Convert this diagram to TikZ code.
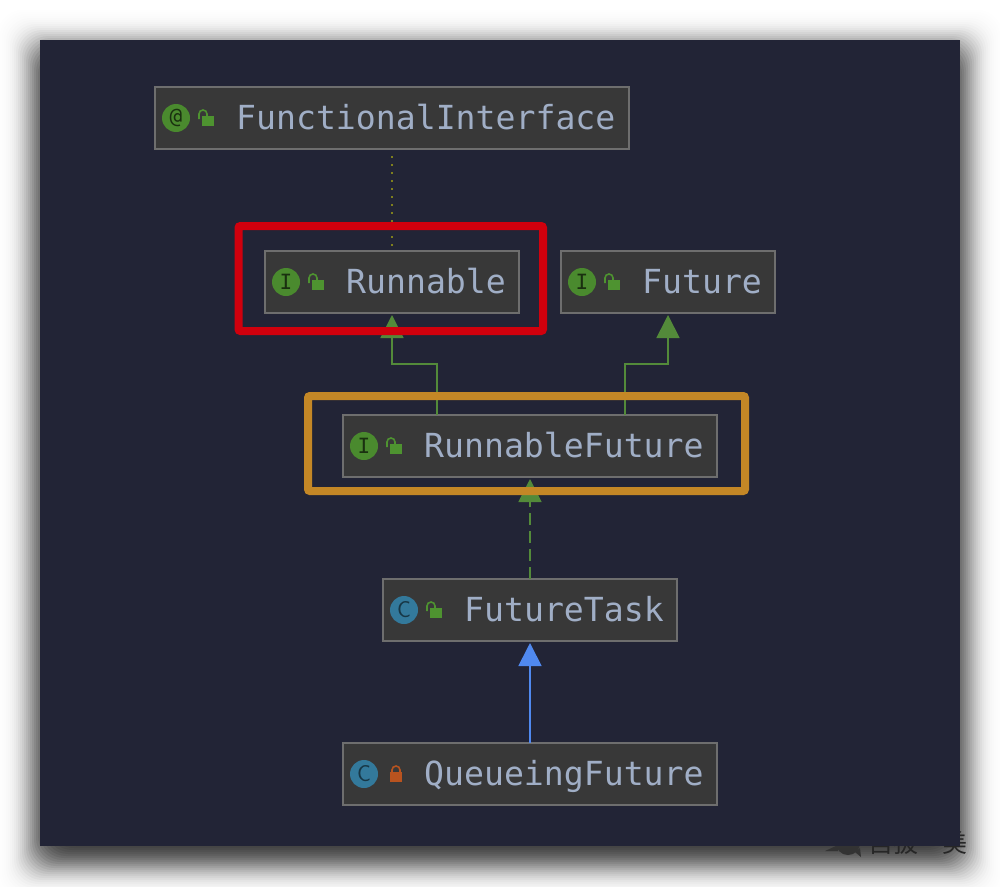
\documentclass[tikz,border=0pt]{standalone}
\usepackage{fontspec}
\setmonofont{DejaVu Sans Mono}
\newfontfamily\cjkfont{Noto Sans CJK SC}
\usetikzlibrary{calc,arrows.meta}
\definecolor{panelbg}{HTML}{222436}
\definecolor{boxbg}{HTML}{383838}
\definecolor{boxline}{HTML}{6E6E6E}
\definecolor{labeltext}{HTML}{A0AEC6}
\definecolor{icongreen}{HTML}{4A8A2E}
\definecolor{iconblue}{HTML}{33799B}
\definecolor{lockgreen}{HTML}{4E9330}
\definecolor{lockred}{HTML}{B8531F}
\definecolor{linegreen}{HTML}{538A3A}
\definecolor{lineblue}{HTML}{5089F0}
\definecolor{dotolive}{HTML}{7F7F1E}
\definecolor{markred}{HTML}{D0000D}
\definecolor{markorange}{HTML}{C48726}

\begin{document}
\begin{tikzpicture}[x=1pt, y=-1pt, >=Triangle]
	\tikzset{classbox/.style={draw=boxline, fill=boxbg, line width=2pt, minimum height=62pt, inner sep=0pt, outer sep=0pt},
		classname/.style={anchor=base west, inner sep=0pt, text=labeltext, font=\ttfamily\fontsize{33.15}{33}\selectfont},
		kindicon/.style={circle, minimum size=28pt, inner sep=0pt, font=\ttfamily\fontsize{21}{21}\selectfont},
		ifaceicon/.style={kindicon, fill=icongreen, text=black!65!icongreen},
		classicon/.style={kindicon, fill=iconblue, text=black!55!iconblue, font=\sffamily\fontsize{23}{23}\selectfont},
		inherits/.style={-{Triangle[length=23pt, width=23pt]}, line width=1.8pt, draw=linegreen, shorten >=2pt},
		highlight/.style={line width=8pt, rounded corners=2pt},
		openlock/.pic={
			\fill[lockgreen] (3,-2) rectangle (15,8);
			\draw[lockgreen, line width=1.6pt] (0,1) -- (0,-4) arc[start angle=180, end angle=360, radius=4] -- (8,-2);
		},
		shutlock/.pic={
			\fill[lockred] (3,-2) rectangle (15,8);
			\draw[lockred, line width=1.6pt] (5,-2) -- (5,-4) arc[start angle=180, end angle=360, radius=4] -- (13,-2);
		}}
	\useasboundingbox (0,0) rectangle (1000,886);
	\fill[white] (0,0) rectangle (1000,886);
	% soft shadow round the window
	\foreach \r in {60,58,...,-60} {
		\pgfmathsetmacro\shade{0.08*exp(-(\r/22)*(\r/22))}
		\fill[black, opacity=\shade, rounded corners=24pt] (40-\r,52-\r) rectangle (960+\r,858+\r);
	}
	\node[anchor=base west, inner sep=0pt, text=black!85, font=\cjkfont\fontsize{25}{25}\selectfont] (mark) at (868,852) {自拔\hspace{24pt}美};
	\fill[black!80] (848,843) circle (12);
	\fill[black!80] (825,851) -- (838,845) -- (838,851) -- cycle;
	\fill[black!80] (855,852) -- (861,857) -- (860,848) -- cycle;
	\fill[panelbg] (40,40) rectangle (960,846);

	% boxes
	\node[classbox, minimum width=474pt] (fi) at (392,118) {};
	\node[classbox, minimum width=254pt] (run) at (392,282) {};
	\node[classbox, minimum width=214pt] (fut) at (668,282) {};
	\node[classbox, minimum width=374pt] (rf) at (530,446) {};
	\node[classbox, minimum width=294pt] (ft) at (530,610) {};
	\node[classbox, minimum width=374pt] (qf) at (530,774) {};

	% icons
	\node[ifaceicon] (fiicon) at ($(fi.west)+(21,0)$) {@};
	\node[ifaceicon] (runicon) at ($(run.west)+(21,0)$) {I};
	\node[ifaceicon] (futicon) at ($(fut.west)+(21,0)$) {I};
	\node[ifaceicon] (rficon) at ($(rf.west)+(21,0)$) {I};
	\node[classicon] (fticon) at ($(ft.west)+(21,0)$) {C};
	\node[classicon] (qficon) at ($(qf.west)+(21,0)$) {C};
	\pic at ($(fi.west)+(44,0)$) {openlock};
	\pic at ($(run.west)+(44,0)$) {openlock};
	\pic at ($(fut.west)+(44,0)$) {openlock};
	\pic at ($(rf.west)+(44,0)$) {openlock};
	\pic at ($(ft.west)+(44,0)$) {openlock};
	\pic at ($(qf.west)+(44,0)$) {shutlock};

	% names
	\node[classname] (filabel) at ($(fi.west)+(81,11)$) {FunctionalInterface};
	\node[classname] (runlabel) at ($(run.west)+(81,11)$) {Runnable};
	\node[classname] (futlabel) at ($(fut.west)+(81,11)$) {Future};
	\node[classname] (rflabel) at ($(rf.west)+(81,11)$) {RunnableFuture};
	\node[classname] (ftlabel) at ($(ft.west)+(81,11)$) {FutureTask};
	\node[classname] (qflabel) at ($(qf.west)+(81,11)$) {QueueingFuture};

	% connectors
	\draw[dotolive, line width=1.5pt, dash pattern=on 1.5pt off 6.5pt, shorten <=7pt, shorten >=5pt] (fi.south) -- (run.north);
	\draw[inherits] ($(rf.north)+(-93,0)$) -- ++(0,-51) -| (run.south);
	\draw[inherits] ($(rf.north)+(95,0)$) -- ++(0,-51) -| (fut.south);
	\draw[inherits, dash pattern=on 12pt off 6pt] (ft.north) -- (rf.south);
	\draw[inherits, draw=lineblue, fill=lineblue] (qf.north) -- (ft.south);

	% highlights
	\draw[highlight, markred] (238.5,226) rectangle (543,331);
	\draw[highlight, markorange] (308,396) rectangle (745,491);
\end{tikzpicture}
\end{document}
